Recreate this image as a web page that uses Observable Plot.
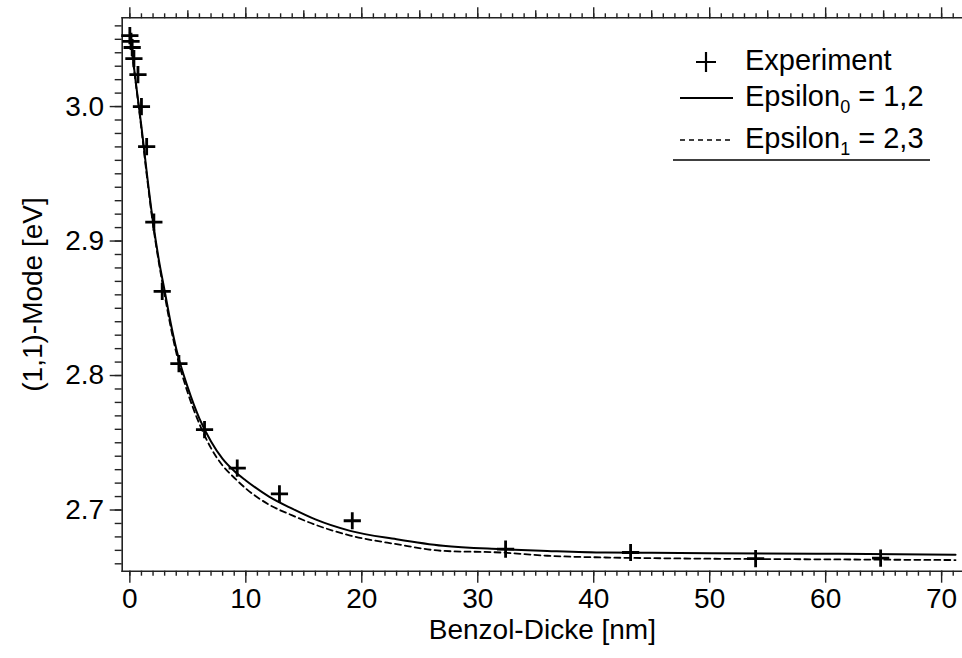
<!DOCTYPE html>
<html>
<head>
<meta charset="utf-8">
<script src="https://cdn.jsdelivr.net/npm/d3@7"></script>
<script src="https://cdn.jsdelivr.net/npm/@observablehq/plot@0.6"></script>
<style>
  body { margin: 0; background: #fff; }
  #wrap { position: relative; width: 962px; height: 658px; font-family: "Liberation Sans", Arial, sans-serif; color: #000; }
  #legend { position: absolute; left: 0; top: 0; width: 962px; height: 200px; pointer-events: none; }
  .lrow { position: absolute; left: 745px; font-size: 29px; line-height: 1; white-space: nowrap; }
  .lrow sub { font-size: 18px; vertical-align: -7px; }
</style>
</head>
<body>
<div id="wrap">
  <div id="chart"></div>
  <div id="legend"></div>
</div>
<script>
// ---- data ----
const expThickness = [0, 0.1, 0.2, 0.35, 0.7, 1.0, 1.45, 2.07, 2.79, 4.23, 6.44, 9.26, 12.9, 19.18, 32.4, 43.18, 53.96, 64.74];
const expMode      = [3.0528, 3.0484, 3.0439, 3.0357, 3.0238, 3.0, 2.9702, 2.914, 2.8626, 2.8088, 2.7597, 2.7312, 2.712, 2.692, 2.6709, 2.6684, 2.6639, 2.6642];

const fitThickness = [0, 0.25, 0.5, 0.75, 1, 1.5, 2, 2.5, 3, 3.5, 4, 5, 6, 7, 8, 9, 10, 12, 14, 16, 19, 23, 27, 32, 36, 41, 45, 50, 60, 71.2];
const eps0Mode     = [3.055, 3.037, 3.019, 3.002, 2.985, 2.948, 2.914, 2.886, 2.863, 2.840, 2.820, 2.791, 2.768, 2.751, 2.738, 2.729, 2.722, 2.710, 2.701, 2.693, 2.6845, 2.6783, 2.6734, 2.6709, 2.6696, 2.6684, 2.6682, 2.6679, 2.6675, 2.6667];
const eps1Mode     = [3.055, 3.036, 3.018, 3.001, 2.983, 2.946, 2.912, 2.884, 2.860, 2.837, 2.817, 2.787, 2.764, 2.746, 2.733, 2.724, 2.716, 2.704, 2.696, 2.689, 2.681, 2.6746, 2.6696, 2.6684, 2.666, 2.6647, 2.6642, 2.6638, 2.6633, 2.6628];

const xMajorTicks = [0, 10, 20, 30, 40, 50, 60, 70];
const xMidTicks   = [5, 15, 25, 35, 45, 55, 65];
const xMinorTicks = d3.range(0, 72, 1);
const yMajorTicks = [2.7, 2.8, 2.9, 3.0];
const yMinorTicks = d3.range(266, 307, 1).map(v => v / 100);

const xLabel = "Benzol-Dicke [nm]";
const yLabel = "(1,1)-Mode [eV]";
const legendItems = [
  {kind: "plus",   name: "Experiment", sub: "",  value: ""},
  {kind: "solid",  name: "Epsilon",    sub: "0", value: " = 1,2"},
  {kind: "dashed", name: "Epsilon",    sub: "1", value: " = 2,3"}
];

// ---- build ----
const exp = expThickness.map((x, i) => ({x, y: expMode[i]}));
const fit0 = fitThickness.map((x, i) => ({x, y: eps0Mode[i]}));
const fit1 = fitThickness.map((x, i) => ({x, y: eps1Mode[i]}));

const axisColor = "#222";
const font = "'Liberation Sans', Arial, sans-serif";

const chart = Plot.plot({
  width: 962,
  height: 658,
  marginLeft: 121.7,
  marginRight: 0,
  marginTop: 17.3,
  marginBottom: 87.3,
  x: {domain: [-0.66, 71.8]},
  y: {domain: [2.6545, 3.066]},
  style: {fontFamily: font, fontSize: "28px", color: "#000", background: "#fff", overflow: "visible"},
  marks: [
    Plot.frame({anchor: "left", stroke: axisColor, strokeWidth: 1.6}),
    Plot.frame({anchor: "top", stroke: axisColor, strokeWidth: 1.6}),
    Plot.frame({anchor: "bottom", stroke: axisColor, strokeWidth: 1.6}),
    // bottom axis
    Plot.axisX(xMinorTicks, {anchor: "bottom", tickSize: 5, tickFormat: () => "", stroke: axisColor, strokeWidth: 1.4, label: null}),
    Plot.axisX(xMajorTicks, {anchor: "bottom", tickSize: 12, tickPadding: 5, fontSize: 28, stroke: axisColor, strokeWidth: 1.4,
      label: xLabel, labelAnchor: "center", labelArrow: "none", labelOffset: 68}),
    // top axis (ticks only)
    Plot.axisX(xMinorTicks, {anchor: "top", tickSize: 5, tickFormat: () => "", stroke: axisColor, strokeWidth: 1.4, label: null}),
    Plot.axisX(xMidTicks, {anchor: "top", tickSize: 8, tickFormat: () => "", stroke: axisColor, strokeWidth: 1.4, label: null}),
    Plot.axisX(xMajorTicks, {anchor: "top", tickSize: 11, tickFormat: () => "", stroke: axisColor, strokeWidth: 1.4, label: null}),
    // left axis
    Plot.axisY(yMinorTicks, {anchor: "left", tickSize: 7, tickFormat: () => "", stroke: axisColor, strokeWidth: 1.4, label: null}),
    Plot.axisY(yMajorTicks, {anchor: "left", tickSize: 12, tickPadding: 6, fontSize: 28, tickFormat: d3.format(".1f"), stroke: axisColor, strokeWidth: 1.4,
      label: yLabel, labelAnchor: "center", labelArrow: "none", labelOffset: 100}),
    // curves
    Plot.line(fit0, {x: "x", y: "y", stroke: "#000", strokeWidth: 2, curve: "monotone-x"}),
    Plot.line(fit1, {x: "x", y: "y", stroke: "#000", strokeWidth: 1.8, strokeDasharray: "6,4", curve: "monotone-x"}),
    // experiment
    Plot.dot(exp, {x: "x", y: "y", symbol: "plus", r: 5.6, stroke: "#000", strokeWidth: 2.8})
  ]
});
document.getElementById("chart").appendChild(chart);

// ---- legend (inside plot, top-right) ----
const legend = document.getElementById("legend");
const rowY = [62, 98, 140];
const ns = "http://www.w3.org/2000/svg";
const svg = document.createElementNS(ns, "svg");
svg.setAttribute("width", 962); svg.setAttribute("height", 200);
svg.style.position = "absolute"; svg.style.left = "0"; svg.style.top = "0";
legendItems.forEach((it, i) => {
  const cy = rowY[i];
  if (it.kind === "plus") {
    const p = document.createElementNS(ns, "path");
    p.setAttribute("d", `M696,${cy}H716M706,${cy - 10}V${cy + 10}`);
    p.setAttribute("stroke", "#000"); p.setAttribute("stroke-width", 2.2);
    svg.appendChild(p);
  } else {
    const l = document.createElementNS(ns, "line");
    l.setAttribute("x1", 680); l.setAttribute("x2", 733);
    l.setAttribute("y1", cy); l.setAttribute("y2", cy);
    l.setAttribute("stroke", "#000"); l.setAttribute("stroke-width", it.kind === "solid" ? 2 : 1.6);
    if (it.kind === "dashed") l.setAttribute("stroke-dasharray", "5,4");
    svg.appendChild(l);
  }
  const d = document.createElement("div");
  d.className = "lrow";
  d.style.top = (cy - 16) + "px";
  d.innerHTML = it.name + (it.sub ? `<sub>${it.sub}</sub>` : "") + it.value;
  legend.appendChild(d);
});
const ul = document.createElementNS(ns, "line");
ul.setAttribute("x1", 673); ul.setAttribute("x2", 930);
ul.setAttribute("y1", 160); ul.setAttribute("y2", 160);
ul.setAttribute("stroke", "#000"); ul.setAttribute("stroke-width", 1.5);
svg.appendChild(ul);
legend.appendChild(svg);
</script>
</body>
</html>
